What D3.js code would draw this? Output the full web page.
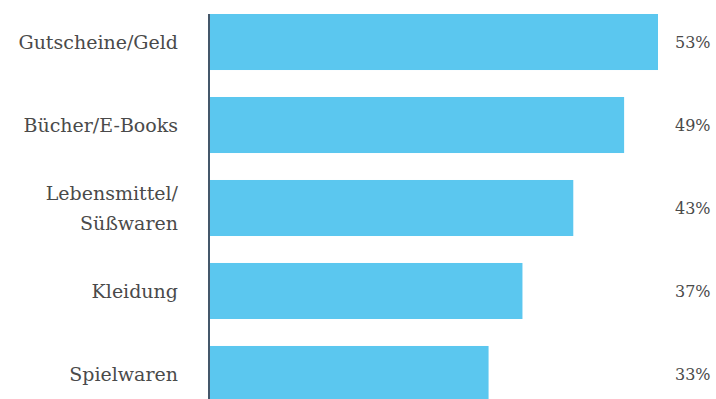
<!DOCTYPE html>
<html>
<head>
<meta charset="utf-8">
<script src="https://cdn.jsdelivr.net/npm/d3@7"></script>
<style>
  html, body { margin: 0; padding: 0; background: #fff; overflow: hidden; }
  svg { display: block; }
</style>
</head>
<body>
<svg id="chart" width="716" height="399"></svg>
<script>
const categories = ["Gutscheine/Geld", "Bücher/E-Books", "Lebensmittel/\nSüßwaren", "Kleidung", "Spielwaren"];
const values = [53, 49, 43, 37, 33];
const valueLabels = ["53%", "49%", "43%", "37%", "33%"];

const svg = d3.select("#chart");
const x = d3.scaleLinear().domain([0, 53]).range([209, 658]);
const y = d3.scaleBand().domain(categories).range([14, 402]).paddingInner(0.325).paddingOuter(0);

const data = categories.map((c, i) => ({ c, v: values[i], l: valueLabels[i] }));

svg.selectAll("rect.bar").data(data).enter().append("rect")
  .attr("class", "bar")
  .attr("x", x(0))
  .attr("y", d => y(d.c))
  .attr("width", d => x(d.v) - x(0))
  .attr("height", y.bandwidth())
  .attr("fill", "#5bc7ef");

svg.append("line")
  .attr("x1", x(0)).attr("x2", x(0))
  .attr("y1", y(categories[0])).attr("y2", 399)
  .attr("stroke", "#44576a").attr("stroke-width", 2);

const labels = svg.selectAll("text.cat").data(data).enter().append("text")
  .attr("class", "cat")
  .attr("text-anchor", "end")
  .attr("font-family", "DejaVu Serif")
  .attr("font-size", 19)
  .attr("fill", "#4a4a4a")
  .attr("transform", d => `translate(178, ${y(d.c) + y.bandwidth() / 2})`);

labels.each(function(d) {
  const lines = d.c.split("\n");
  const t = d3.select(this);
  const lh = 30;
  lines.forEach((ln, i) => {
    t.append("tspan")
      .attr("x", 0)
      .attr("y", (i - (lines.length - 1) / 2) * lh)
      .attr("dy", "0.35em")
      .text(ln);
  });
});

svg.selectAll("text.val").data(data).enter().append("text")
  .attr("class", "val")
  .attr("x", 675)
  .attr("y", d => y(d.c) + y.bandwidth() / 2)
  .attr("dy", "0.35em")
  .attr("font-family", "DejaVu Serif")
  .attr("font-size", 16)
  .attr("fill", "#4a4a4a")
  .text(d => d.l);
</script>
</body>
</html>
